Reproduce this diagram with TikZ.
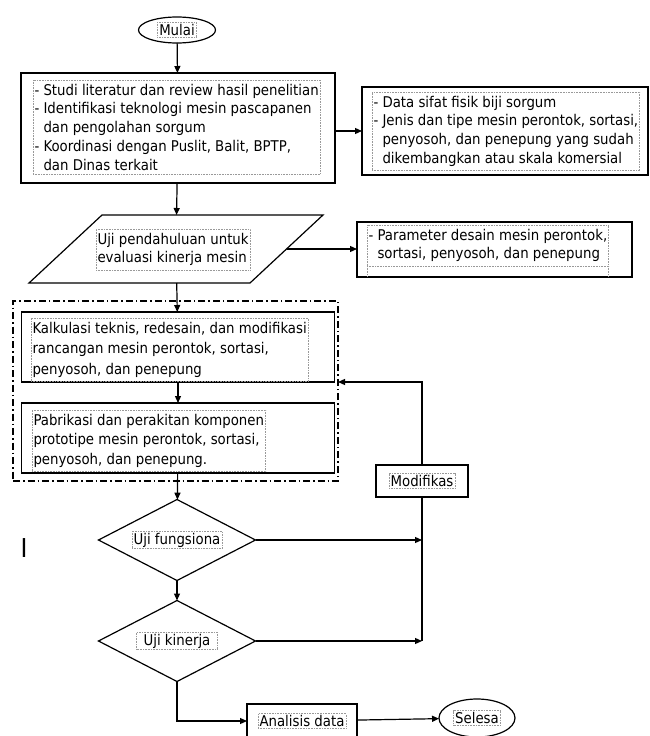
\documentclass[tikz,border=0pt]{standalone}
\usepackage{fontspec}
\setmainfont{DejaVu Sans Condensed}
\usetikzlibrary{shapes.geometric,arrows.meta,positioning}
\newcommand{\dashind}{\phantom{- }}

\begin{document}
\begin{tikzpicture}[
        x=1pt, y=-1pt,
        every node/.style={inner sep=0pt, outer sep=0pt},
        box/.style={draw, line width=1.7pt, rectangle},
        oval/.style={draw, line width=1.2pt, ellipse},
        decision/.style={draw, line width=1.2pt, diamond, aspect=2},
        txt/.style={draw=gray!80, densely dotted, line width=0.6pt, inner sep=1.5pt, align=left, font=\fontsize{14.8}{18.7}\selectfont},
        block/.style={txt, inner ysep=4pt, anchor=north west},
        tick/.style={draw=gray!80, densely dotted, line width=0.6pt},
        flow/.style={line width=1.2pt, -{Triangle[length=7pt,width=6pt]}},
        link/.style={line width=1.2pt},
        group/.style={draw, line width=1.2pt, dash pattern=on 7pt off 3pt on 1.5pt off 3pt},
    ]
    \path[use as bounding box, fill=white] (0,0) rectangle (650,736);

    \node[oval, minimum width=77pt, minimum height=26pt](mulai) at (177,30){};
    \node[box, minimum width=314pt, minimum height=110pt](studi) at (178,128){};
    \node[box, minimum width=286pt, minimum height=88pt](data) at (505,131){};
    \node[minimum width=294pt, minimum height=68pt](uji) at (176,249){};
    \draw[link] ([xshift=73pt]uji.north west) -- (uji.north east) -- ([xshift=-73pt]uji.south east) -- (uji.south west) -- cycle;
    \node[box, minimum width=275pt, minimum height=55pt](param) at (494.5,249.5){};
    \node[group, minimum width=325pt, minimum height=180pt](grup) at (175.5,391){};
    \node[box, minimum width=313pt, minimum height=70pt](kalkulasi) at (178,347){};
    \node[box, minimum width=313pt, minimum height=70pt](pabrikasi) at (178,438){};
    \node[decision, minimum width=157pt, minimum height=81pt](fungsi) at (177,540){};
    \node[decision, minimum width=157pt, minimum height=81pt](kinerja) at (177,641){};
    \node[box, line width=1.4pt, minimum width=92pt, minimum height=32pt](modif) at (422,481){};
    \node[box, line width=1.4pt, minimum width=110pt, minimum height=34pt](analisis) at (302,721){};
    \node[oval, minimum width=76pt, minimum height=38pt](selesai) at (477,718){};

    \node[txt, inner xsep=2pt](tmulai) at (mulai){Mulai};
    \node[block](tstudi) at (33,80){- Studi literatur dan review hasil penelitian\\- Identifikasi teknologi mesin pascapanen\\\dashind dan pengolahan sorgum\\- Koordinasi dengan Puslit, Balit, BPTP,\\\dashind dan Dinas terkait};
    \node[block](tdata) at (372,92){- Data sifat fisik biji sorgum\\- Jenis dan tipe mesin perontok, sortasi,\\\dashind penyosoh, dan penepung yang sudah\\\dashind dikembangkan atau skala komersial};
    \node[block](tuji) at (96,229){Uji pendahuluan untuk\\evaluasi kinerja mesin};
    \node[block](tparam) at (367,225){- Parameter desain mesin perontok,\\\dashind sortasi, penyosoh, dan penepung};
    \node[block, font=\fontsize{14.8}{20.5}\selectfont](tkalkulasi) at (31,318){Kalkulasi teknis, redesain, dan modifikasi\\rancangan mesin perontok, sortasi,\\penyosoh, dan penepung};
    \node[block, font=\fontsize{14.8}{19.5}\selectfont](tpabrikasi) at (32,410){Pabrikasi dan perakitan komponen\\prototipe mesin perontok, sortasi,\\penyosoh, dan penepung.};
    \node[txt](tfungsi) at (fungsi){Uji fungsiona};
    \node[txt, inner xsep=7pt](tkinerja) at (kinerja){Uji kinerja};
    \node[txt](tmodif) at (modif){Modifikas};
    \node[txt](tanalisis) at (analisis){Analisis data};
    \node[txt](tselesai) at (selesai){Selesa};
    \node[font=\fontsize{26}{26}\selectfont](kursor) at (24,548){I};
    \draw[tick] (tparam.south west) -- ++(0,10);
    \draw[tick] (tparam.south east) -- ++(0,10);

    \draw[flow] (mulai) -- (studi);
    \draw[flow] (studi.east |- data.west) -- (data.west);
    \draw[flow] (studi) -- (uji);
    \draw[flow] ([xshift=-36.5pt]uji.east) -- (uji.east -| param.west);
    \draw[flow] (uji) -- (kalkulasi);
    \draw[flow] (kalkulasi) -- (pabrikasi);
    \draw[flow] (pabrikasi) -- (fungsi);
    \draw[flow] (fungsi) -- (kinerja);
    \draw[flow] (fungsi.east) -- (fungsi.east -| modif.south);
    \draw[flow] (kinerja.east) -- (kinerja.east -| modif.south);
    \draw[link] (kinerja.east -| modif.south) -- (modif.south);
    \draw[flow] (modif.north) |- (grup.east |- kalkulasi.south);
    \draw[flow] (kinerja.south) |- (analisis.west);
    \draw[flow] (analisis) -- (selesai);
\end{tikzpicture}
\end{document}
